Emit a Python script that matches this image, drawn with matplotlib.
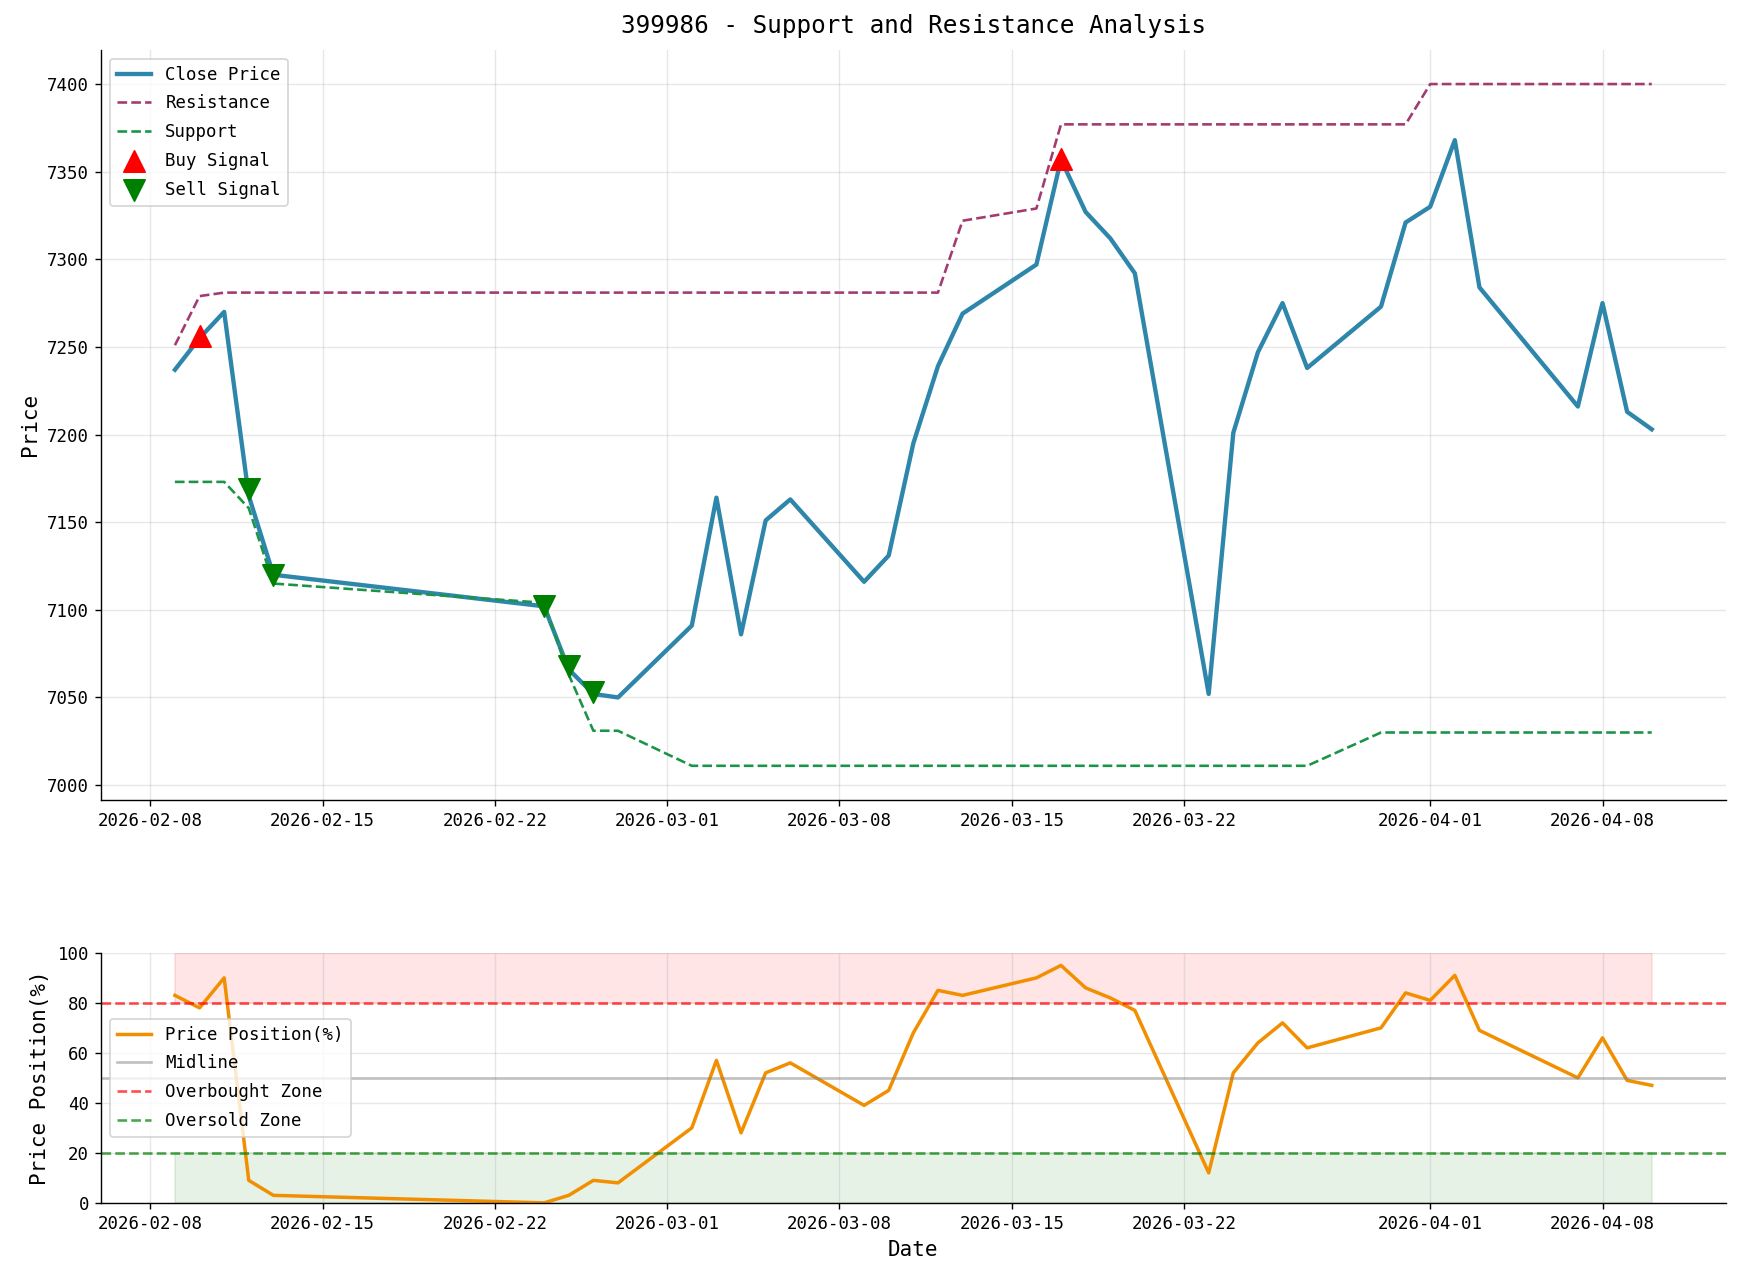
import matplotlib
matplotlib.use("Agg")
import matplotlib.pyplot as plt
import matplotlib.dates as mdates
import pandas as pd

plt.rcParams['font.family'] = ['DejaVu Sans Mono', 'DejaVu Sans']
plt.rcParams['axes.unicode_minus'] = False

dates = pd.to_datetime([
    '2026-02-09', '2026-02-10', '2026-02-11', '2026-02-12', '2026-02-13',
    '2026-02-24', '2026-02-25', '2026-02-26', '2026-02-27',
    '2026-03-02', '2026-03-03', '2026-03-04', '2026-03-05', '2026-03-06',
    '2026-03-09', '2026-03-10', '2026-03-11', '2026-03-12', '2026-03-13',
    '2026-03-16', '2026-03-17', '2026-03-18', '2026-03-19', '2026-03-20',
    '2026-03-23', '2026-03-24', '2026-03-25', '2026-03-26', '2026-03-27',
    '2026-03-30', '2026-03-31', '2026-04-01', '2026-04-02', '2026-04-03',
    '2026-04-07', '2026-04-08', '2026-04-09', '2026-04-10'])

close = [7237, 7255, 7270, 7165, 7120,
         7102, 7066, 7052, 7050,
         7091, 7164, 7086, 7151, 7163,
         7116, 7131, 7195, 7239, 7269,
         7297, 7357, 7327, 7312, 7292,
         7052, 7201, 7247, 7275, 7238,
         7273, 7321, 7330, 7368, 7284,
         7216, 7275, 7213, 7203]

resistance = [7251, 7279, 7281, 7281, 7281,
              7281, 7281, 7281, 7281,
              7281, 7281, 7281, 7281, 7281,
              7281, 7281, 7281, 7281, 7322,
              7329, 7377, 7377, 7377, 7377,
              7377, 7377, 7377, 7377, 7377,
              7377, 7377, 7400, 7400, 7400,
              7400, 7400, 7400, 7400]

support = [7173, 7173, 7173, 7158, 7115,
           7104, 7063, 7031, 7031,
           7011, 7011, 7011, 7011, 7011,
           7011, 7011, 7011, 7011, 7011,
           7011, 7011, 7011, 7011, 7011,
           7011, 7011, 7011, 7011, 7011,
           7030, 7030, 7030, 7030, 7030,
           7030, 7030, 7030, 7030]

position = [83, 78, 90, 9, 3,
            0, 3, 9, 8,
            30, 57, 28, 52, 56,
            39, 45, 68, 85, 83,
            90, 95, 86, 82, 77,
            12, 52, 64, 72, 62,
            70, 84, 81, 91, 69,
            50, 66, 49, 47]

buy_dates = pd.to_datetime(['2026-02-10', '2026-03-17'])
buy_prices = [7256, 7357]
sell_dates = pd.to_datetime(['2026-02-12', '2026-02-13', '2026-02-24', '2026-02-25', '2026-02-26'])
sell_prices = [7169, 7120, 7102, 7068, 7053]

fig, (ax1, ax2) = plt.subplots(2, 1, figsize=(13.944, 10.248), dpi=125,
                               gridspec_kw={'height_ratios': [3, 1]})
fig.subplots_adjust(left=0.058, right=0.990, top=0.961, bottom=0.061, hspace=0.306)

# top: price with support / resistance
ax1.plot(dates, close, color='#2E86AB', linewidth=2.5, label='Close Price')
ax1.plot(dates, resistance, color='#A23B72', linestyle='--', linewidth=1.5, label='Resistance')
ax1.plot(dates, support, color='#1B9448', linestyle='--', linewidth=1.5, label='Support')
ax1.scatter(buy_dates, buy_prices, marker='^', color='red', s=150, zorder=5, label='Buy Signal')
ax1.scatter(sell_dates, sell_prices, marker='v', color='green', s=150, zorder=5, label='Sell Signal')
ax1.set_title('399986 - Support and Resistance Analysis', fontsize=14, pad=10)
ax1.set_ylabel('Price', fontsize=12)
ax1.legend(loc='upper left', fontsize=10, labelspacing=0.62)
ax1.grid(True, alpha=0.3)

# bottom: price position
ax2.plot(dates, position, color='#F18F01', linewidth=2, label='Price Position(%)')
ax2.axhline(50, color='gray', alpha=0.5, linewidth=1.5, label='Midline')
ax2.axhline(80, color='red', linestyle='--', alpha=0.7, linewidth=1.5, label='Overbought Zone')
ax2.axhline(20, color='green', linestyle='--', alpha=0.7, linewidth=1.5, label='Oversold Zone')
ax2.fill_between(dates, 80, 100, color='red', alpha=0.1)
ax2.fill_between(dates, 0, 20, color='green', alpha=0.1)
ax2.set_ylim(0, 100)
ax2.set_ylabel('Price Position(%)', fontsize=12)
ax2.set_xlabel('Date', fontsize=12)
ax2.legend(loc='center left', fontsize=10, labelspacing=0.62)
ax2.grid(True, alpha=0.3)

for ax in (ax1, ax2):
    ax.spines['top'].set_visible(False)
    ax.spines['right'].set_visible(False)
    ax.xaxis.set_major_locator(mdates.DayLocator(bymonthday=[1, 8, 15, 22]))
    ax.xaxis.set_major_formatter(mdates.DateFormatter('%Y-%m-%d'))
    ax.tick_params(labelsize=10)
ax2.set_xlim(ax1.get_xlim())

fig.savefig('out.png', dpi=125)
